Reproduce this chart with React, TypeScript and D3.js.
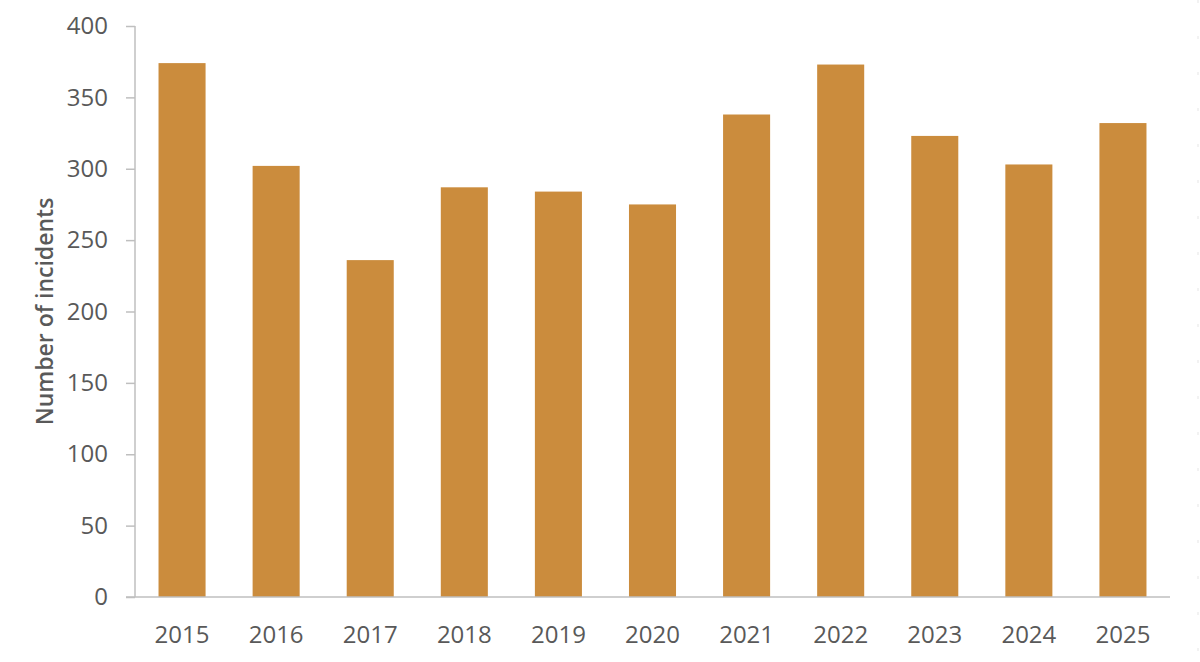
import React, { useEffect, useRef } from 'react';
import * as d3 from 'd3';

const years = ['2015', '2016', '2017', '2018', '2019', '2020', '2021', '2022', '2023', '2024', '2025'];
const incidents = [374, 302, 236, 287, 284, 275, 338, 373, 323, 303, 332];
const yTicks = [0, 50, 100, 150, 200, 250, 300, 350, 400];

const W = 1200;
const H = 662;
const FONT = '"Open Sans", "Noto Sans", sans-serif';
const TEXT = '#595959';
const AXIS = '#BFBFBF';
const BAR = '#CB8C3D';

const App: React.FC = () => {
  const svgRef = useRef<SVGSVGElement>(null);

  useEffect(() => {
    if (!svgRef.current) return;
    const margin = { top: 26, right: 30, bottom: 65, left: 135 };
    const innerW = W - margin.left - margin.right;
    const innerH = H - margin.top - margin.bottom;

    const svg = d3.select(svgRef.current);
    svg.selectAll('*').remove();

    const x = d3.scaleBand().domain(years).range([0, innerW]).paddingInner(0.5).paddingOuter(0.25);
    const y = d3.scaleLinear().domain([0, 400]).range([innerH, 0]);

    const g = svg.append('g').attr('transform', `translate(${margin.left},${margin.top})`);

    // bars
    g.selectAll('.bar')
      .data(incidents)
      .enter()
      .append('rect')
      .attr('class', 'bar')
      .attr('x', (_, i) => x(years[i])!)
      .attr('y', d => y(d))
      .attr('width', x.bandwidth())
      .attr('height', d => innerH - y(d))
      .attr('fill', BAR);

    // y axis
    const yAxis = g.append('g').call(
      d3.axisLeft(y).tickValues(yTicks).tickSize(9).tickPadding(18)
    );
    yAxis.select('.domain').attr('stroke', AXIS).attr('stroke-width', 1.5).attr('d', `M0,0V${innerH}`);
    yAxis.selectAll('.tick line').attr('stroke', AXIS).attr('stroke-width', 1.5);
    yAxis.selectAll('.tick text')
      .attr('fill', TEXT)
      .attr('font-family', FONT)
      .attr('font-size', 24);

    // x axis
    const xAxis = g.append('g')
      .attr('transform', `translate(0,${innerH})`)
      .call(d3.axisBottom(x).tickSize(0).tickPadding(29));
    xAxis.select('.domain').attr('stroke', AXIS).attr('stroke-width', 1.5).attr('d', `M-9,0H${innerW}`);
    xAxis.selectAll('.tick text')
      .attr('fill', TEXT)
      .attr('font-family', FONT)
      .attr('font-size', 24);

    // y title
    svg.append('text')
      .attr('transform', `translate(53,${margin.top + innerH / 2}) rotate(-90)`)
      .attr('text-anchor', 'middle')
      .attr('fill', TEXT)
      .attr('font-family', FONT)
      .attr('font-weight', 600)
      .attr('font-size', 23)
      .text('Number of incidents');

    // faint dotted edge on the right
    svg.append('line')
      .attr('x1', 1198).attr('x2', 1198)
      .attr('y1', 0).attr('y2', H)
      .attr('stroke', '#F2F2F2')
      .attr('stroke-width', 2)
      .attr('stroke-dasharray', '3,33');
  }, []);

  return (
    <svg
      ref={svgRef}
      width={W}
      height={H}
      style={{ position: 'absolute', left: 0, top: 0, background: '#fff' }}
    />
  );
};

export default App;
